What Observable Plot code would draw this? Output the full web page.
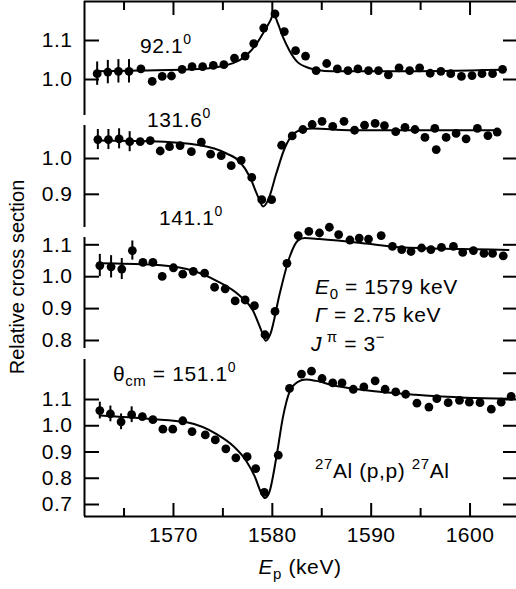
<!DOCTYPE html>
<html>
<head>
<meta charset="utf-8">
<script src="https://cdn.jsdelivr.net/npm/d3@7"></script>
<script src="https://cdn.jsdelivr.net/npm/@observablehq/plot@0.6"></script>
<style>
  body { margin: 0; background: #fff; }
  #chart { position: relative; width: 516px; height: 589px; overflow: hidden; background: #fff;
           font-family: "Liberation Sans", Arial, Helvetica, sans-serif; }
  #chart svg { position: absolute; left: 0; top: 0; }
  #chart svg g[aria-label="y-axis tick label"] text,
  #chart svg g[aria-label="x-axis tick label"] text { letter-spacing: 0.5px; }
</style>
</head>
<body>
<div id="chart"></div>
<script>
// ---------- shared x axis ----------
const xDomain = [1561, 1604.7];
const xMajorTicks = [1570, 1580, 1590, 1600];
const xMinorTicks = [1565, 1575, 1585, 1595];

// ---------- panel 1 : 92.1 deg ----------
const p1Energy = [1562.28,1563.36,1564.43,1565.50,1566.71,1567.85,1568.86,1569.80,1570.87,1571.88,1572.95,1574.03,1575.10,1576.17,1577.25,1578.12,1579.13,1580.27,1581.21,1582.35,1583.36,1584.43,1585.50,1586.58,1587.65,1588.66,1589.73,1590.74,1591.74,1592.82,1593.89,1594.90,1595.97,1597.05,1598.05,1599.13,1600.20,1601.21,1602.28,1603.29];
const p1Value  = [1.015,1.019,1.021,1.021,1.027,0.995,1.008,1.009,1.026,1.033,1.033,1.036,1.038,1.055,1.060,1.092,1.132,1.168,1.123,1.074,1.060,1.023,1.041,1.027,1.023,1.027,1.023,1.023,1.012,1.030,1.023,1.030,1.016,1.021,1.015,1.008,1.010,1.015,1.015,1.026];
const p1Error  = [0.03,0.03,0.03,0.03];
const p1CurveE = [1562.28,1566.71,1572.68,1576.04,1577.38,1578.39,1579.23,1579.80,1580.13,1580.57,1581.07,1581.74,1582.58,1583.42,1584.43,1586.11,1592.82,1603.29];
const p1CurveV = [1.021,1.023,1.027,1.042,1.062,1.091,1.126,1.151,1.168,1.143,1.109,1.074,1.044,1.032,1.025,1.021,1.021,1.025];
const p1TicksLeft  = [1.0, 1.1];
const p1TicksRight = [1.0, 1.1];

// ---------- panel 2 : 131.6 deg ----------
const p2Energy = [1562.35,1563.42,1564.50,1565.57,1566.64,1567.65,1568.66,1569.60,1570.67,1571.81,1572.82,1573.76,1574.83,1575.84,1576.85,1577.92,1578.93,1579.93,1580.94,1582.01,1583.09,1584.03,1585.03,1586.11,1587.25,1588.32,1589.33,1590.40,1591.34,1592.48,1593.42,1594.43,1595.44,1596.44,1596.58,1597.58,1598.59,1599.60,1600.74,1601.81,1602.75];
const p2Value  = [1.053,1.053,1.055,1.047,1.047,1.050,1.021,1.033,1.036,1.019,1.046,1.012,1.008,0.980,0.995,0.947,0.885,0.885,1.037,1.063,1.081,1.095,1.104,1.090,1.104,1.079,1.093,1.098,1.092,1.075,1.087,1.081,1.059,1.084,1.025,1.059,1.070,1.055,1.084,1.064,1.074];
const p2Error  = [0.028,0.028,0.028,0.028];
const p2CurveE = [1562.35,1567.65,1572.68,1575.37,1576.71,1577.72,1578.56,1579.06,1579.56,1580.40,1581.24,1582.08,1583.09,1584.09,1587.79,1602.75];
const p2CurveV = [1.050,1.048,1.037,1.014,0.991,0.949,0.893,0.866,0.883,0.958,1.028,1.067,1.081,1.084,1.079,1.079];
const p2TicksLeft  = [0.9, 1.0];
const p2TicksRight = [0.9, 1.0];

// ---------- panel 3 : 141.1 deg ----------
const p3Energy = [1562.55,1563.69,1564.77,1565.84,1566.91,1567.92,1568.86,1570.00,1570.94,1572.01,1573.15,1574.16,1575.23,1576.24,1577.25,1578.19,1579.26,1580.27,1581.48,1582.62,1583.69,1584.77,1585.77,1586.71,1587.85,1588.79,1589.73,1591.01,1592.15,1593.09,1594.03,1595.10,1596.04,1597.11,1598.32,1599.26,1600.34,1601.41,1602.28,1603.36];
const p3Value  = [1.035,1.031,1.024,1.082,1.045,1.045,1.001,1.028,1.008,1.017,1.011,0.967,0.962,0.924,0.927,0.909,0.818,0.891,1.042,1.129,1.142,1.137,1.155,1.132,1.115,1.121,1.118,1.129,1.095,1.085,1.079,1.090,1.085,1.092,1.095,1.076,1.082,1.073,1.073,1.065];
const p3Error  = [0.035,0.035,0.033,0.03];
const p3CurveE = [1562.55,1567.65,1571.34,1574.36,1576.71,1578.05,1578.89,1579.33,1579.80,1580.74,1581.74,1582.58,1583.26,1584.77,1589.46,1592.82,1603.89];
const p3CurveV = [1.042,1.038,1.024,0.987,0.940,0.893,0.831,0.799,0.820,0.946,1.061,1.113,1.121,1.118,1.104,1.092,1.084];
const p3TicksLeft  = [0.8, 0.9, 1.0, 1.1];
const p3TicksRight = [0.8, 0.9, 1.0, 1.1];

// ---------- panel 4 : 151.1 deg ----------
const p4Energy = [1562.55,1563.62,1564.70,1565.77,1566.85,1567.92,1568.93,1569.93,1570.94,1571.88,1573.22,1574.23,1575.30,1576.31,1577.45,1578.32,1579.19,1580.60,1581.74,1582.95,1583.96,1585.03,1586.11,1587.05,1588.19,1589.26,1590.40,1591.41,1592.48,1593.49,1594.63,1595.84,1596.64,1597.79,1598.93,1599.93,1601.01,1602.15,1603.15,1604.16];
const p4Value  = [1.058,1.045,1.015,1.042,1.035,1.023,0.987,0.987,1.019,0.978,0.965,0.946,0.912,0.878,0.882,0.837,0.746,0.888,1.142,1.197,1.208,1.180,1.163,1.163,1.139,1.148,1.171,1.139,1.129,1.120,1.086,1.071,1.103,1.088,1.097,1.090,1.088,1.063,1.090,1.112];
const p4Error  = [0.032,0.03,0.03,0.03];
const p4CurveE = [1562.55,1567.65,1571.34,1574.36,1576.04,1577.38,1578.22,1578.89,1579.23,1579.66,1580.40,1581.07,1581.74,1582.58,1583.42,1584.43,1586.11,1589.46,1594.50,1599.53,1604.50];
const p4CurveV = [1.039,1.026,1.013,0.968,0.923,0.865,0.807,0.743,0.725,0.743,0.878,1.032,1.129,1.167,1.176,1.171,1.154,1.135,1.118,1.107,1.103];
const p4TicksLeft  = [0.7, 0.8, 0.9, 1.0, 1.1];
const p4TicksRight = [0.7, 0.8, 0.9, 1.0, 1.1, 1.2];

// ---------- layout (pixel frame of each panel, y domain) ----------
const W = 516, H = 589, ML = 84, MR = 0;
const panels = [
  {energy: p1Energy, value: p1Value, error: p1Error, curveE: p1CurveE, curveV: p1CurveV, left: p1TicksLeft, right: p1TicksRight, top: 1,   bottom: 115, yDomain: [0.9077, 1.2],    topAxis: true},
  {energy: p2Energy, value: p2Value, error: p2Error, curveE: p2CurveE, curveV: p2CurveV, left: p2TicksLeft, right: p2TicksRight, top: 125, bottom: 227, yDomain: [0.8073, 1.0922]},
  {energy: p3Energy, value: p3Value, error: p3Error, curveE: p3CurveE, curveV: p3CurveV, left: p3TicksLeft, right: p3TicksRight, top: 237, bottom: 348, yDomain: [0.7749, 1.1229]},
  {energy: p4Energy, value: p4Value, error: p4Error, curveE: p4CurveE, curveV: p4CurveV, left: p4TicksLeft, right: p4TicksRight, top: 359, bottom: 516, yDomain: [0.6543, 1.2524], bottomAxis: true}
];

const FONT = "'Liberation Sans', Arial, Helvetica, sans-serif";
const chart = document.getElementById("chart");
const fmt = d3.format(".1f");

function richText(svg, x, y, parts, opts = {}) {
  const t = d3.select(svg).append("text")
    .attr("x", x).attr("y", y)
    .attr("font-size", opts.size || 21)
    .attr("font-family", FONT)
    .attr("letter-spacing", opts.spacing != null ? opts.spacing : 0.6)
    .attr("text-anchor", opts.anchor || "start")
    .attr("fill", "black");
  if (opts.transform) t.attr("transform", opts.transform);
  let shift = 0;
  for (const p of parts) {
    const ts = t.append("tspan").text(p.t);
    const target = p.sup ? -p.sup : (p.sub ? p.sub : 0);
    if (target !== shift) { ts.attr("dy", target - shift); shift = target; }
    if (p.sup || p.sub) ts.attr("font-size", p.size || 14);
    if (p.italic) ts.attr("font-style", "italic");
  }
}

const svgs = panels.map((p) => {
  const plotW = W - ML - MR;
  const plotH = p.bottom - p.top;
  const data = p.energy.map((e, i) => ({e, v: p.value[i], err: p.error[i]}));
  const errData = data.filter(d => d.err != null);
  const curve = p.curveE.map((e, i) => ({e, v: p.curveV[i]}));
  const marks = [
    Plot.ruleX([xDomain[0]], {strokeWidth: 2}),
    Plot.tickY(p.left, {y: d => d, insetRight: plotW - 15, strokeWidth: 2}),
    Plot.tickY(p.right, {y: d => d, insetLeft: plotW - 13, strokeWidth: 2}),
    Plot.axisY({anchor: "left", ticks: p.left, tickSize: 0, tickPadding: 12, tickFormat: fmt, label: null, fontSize: 21}),
    Plot.line(curve, {x: "e", y: "v", curve: "monotone-x", strokeWidth: 2}),
    Plot.ruleX(errData, {x: "e", y1: d => d.v - d.err, y2: d => d.v + d.err, strokeWidth: 2}),
    Plot.dot(data, {x: "e", y: "v", r: 4.4, fill: "black", stroke: "none"})
  ];
  if (p.topAxis) {
    marks.push(Plot.ruleY([p.yDomain[1]], {strokeWidth: 2}));
    marks.push(Plot.tickX(xMajorTicks, {x: d => d, insetBottom: plotH - 14, strokeWidth: 2}));
    marks.push(Plot.tickX(xMinorTicks, {x: d => d, insetBottom: plotH - 9, strokeWidth: 2}));
  }
  if (p.bottomAxis) {
    marks.push(Plot.ruleY([p.yDomain[0]], {strokeWidth: 2}));
    marks.push(Plot.tickX(xMajorTicks, {x: d => d, insetTop: plotH - 13, strokeWidth: 2}));
    marks.push(Plot.tickX(xMinorTicks, {x: d => d, insetTop: plotH - 8, strokeWidth: 2}));
    marks.push(Plot.axisX({anchor: "bottom", ticks: xMajorTicks, tickSize: 0, tickPadding: 11, tickFormat: d => String(d), label: null, fontSize: 21}));
  }
  const svg = Plot.plot({
    width: W, height: H,
    marginLeft: ML, marginRight: MR,
    marginTop: p.top, marginBottom: H - p.bottom,
    x: p.bottomAxis ? {domain: xDomain} : {domain: xDomain, axis: null},
    y: {domain: p.yDomain},
    style: {background: "none", fontFamily: FONT, fontSize: "21px", color: "black", overflow: "visible", maxWidth: "none"},
    marks
  });
  chart.appendChild(svg);
  return svg;
});

// ---------- annotations (anchored in data coordinates of each panel) ----------
const annotations = [
  {panel: 0, e: 1566.66, v: 1.0667, parts: [{t: "92.1"}, {t: "0", sup: 9}]},
  {panel: 1, e: 1567.37, v: 1.0874, parts: [{t: "131.6"}, {t: "0", sup: 9}]},
  {panel: 2, e: 1568.59, v: 1.1605, parts: [{t: "141.1"}, {t: "0", sup: 9}]},
  {panel: 3, e: 1563.93, v: 1.1686, parts: [{t: "θ"}, {t: "cm", sub: 5, size: 15}, {t: " = 151.1"}, {t: "0", sup: 9}]},
  {panel: 2, e: 1584.37, v: 0.9442, parts: [{t: "E", italic: true}, {t: "0", sub: 5, size: 15}, {t: " = 1579 keV"}]},
  {panel: 2, e: 1584.37, v: 0.8564, parts: [{t: "Γ", italic: true}, {t: " = 2.75 keV"}]},
  {panel: 2, e: 1583.96, v: 0.7655, parts: [{t: "J", italic: true}, {t: " π", sup: 9, size: 15}, {t: " = 3"}, {t: "−", sup: 9, size: 15}]},
  {panel: 3, e: 1584.37, v: 0.799,  parts: [{t: "27", sup: 9, size: 15}, {t: "Al (p,p) "}, {t: "27", sup: 9, size: 15}, {t: "Al"}]}
];
for (const a of annotations) {
  const svg = svgs[a.panel];
  const sx = svg.scale("x"), sy = svg.scale("y");
  richText(svg, sx.apply(a.e), sy.apply(a.v), a.parts);
}

// axis titles
const last = svgs[3];
const sx4 = last.scale("x");
richText(last, sx4.apply((xDomain[0] + xDomain[1]) / 2), 574,
  [{t: "E", italic: true}, {t: "p", sub: 5, size: 15}, {t: " (keV)"}], {anchor: "middle"});
richText(last, 0, 0, [{t: "Relative cross section"}], {anchor: "middle", size: 20, spacing: 0, transform: "translate(24,277) rotate(-90)"});
</script>
</body>
</html>
